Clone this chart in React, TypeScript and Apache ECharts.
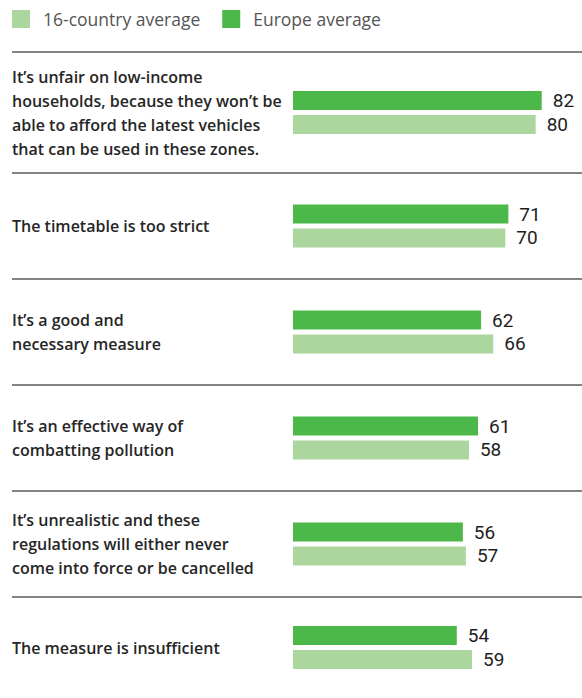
import React, { useEffect, useRef } from "react";
import * as echarts from "echarts";

const categories = [
  "It’s unfair on low-income\nhouseholds, because they won’t be\nable to afford the latest vehicles\nthat can be used in these zones.",
  "The timetable is too strict",
  "It’s a good and\nnecessary measure",
  "It’s an effective way of\ncombatting pollution",
  "It’s unrealistic and these\nregulations will either never\ncome into force or be cancelled",
  "The measure is insufficient",
];
const europeAverage = [82, 71, 62, 61, 56, 54];
const countryAverage = [80, 70, 66, 58, 57, 59];
const seriesNames = ["16-country average", "Europe average"];

const bandTops = [52, 173, 279, 385, 491, 597];
const bandBottoms = [173, 279, 385, 491, 597, 703];

const DARK = "#4cb84a";
const LIGHT = "#abd69d";
const FONT = "'Open Sans', sans-serif";

export default function App() {
  const ref = useRef<HTMLDivElement>(null);
  useEffect(() => {
    if (!ref.current) return;
    const chart = echarts.init(ref.current, null, { renderer: "svg" });
    const grids: any[] = [];
    const xAxes: any[] = [];
    const yAxes: any[] = [];
    const series: any[] = [];
    const labelStyle = {
      show: true,
      position: "right",
      distance: 11,
      fontSize: 19,
      fontWeight: "normal",
      color: "#1e1e1e",
      fontFamily: "Roboto, sans-serif",
    };
    categories.forEach((cat, i) => {
      grids.push({
        left: 293,
        right: 16,
        top: bandTops[i],
        height: bandBottoms[i] - bandTops[i],
        containLabel: false,
      });
      xAxes.push({
        type: "value",
        gridIndex: i,
        min: 0,
        max: 90,
        show: false,
      });
      yAxes.push({
        type: "category",
        gridIndex: i,
        data: [cat],
        axisLine: { show: false },
        axisTick: { show: false },
        splitLine: { show: false },
        axisLabel: {
          align: "left",
          margin: 281,
          fontSize: 16,
          lineHeight: 24,
          fontWeight: 600,
          color: "#262626",
          fontFamily: FONT,
        },
      });
      series.push({
        type: "bar",
        name: seriesNames[1],
        xAxisIndex: i,
        yAxisIndex: i,
        data: [europeAverage[i]],
        barWidth: 19,
        barGap: "26%",
        itemStyle: { color: DARK },
        label: labelStyle,
      });
      series.push({
        type: "bar",
        name: seriesNames[0],
        xAxisIndex: i,
        yAxisIndex: i,
        data: [countryAverage[i]],
        barWidth: 19,
        barGap: "26%",
        itemStyle: { color: LIGHT },
        label: labelStyle,
      });
    });
    const graphic = bandTops.map((y) => ({
      type: "line",
      shape: { x1: 12, y1: y, x2: 582, y2: y },
      style: { stroke: "#5a5a5a", lineWidth: 1.5 },
      silent: true,
    }));
    chart.setOption({
      animation: false,
      backgroundColor: "#ffffff",
      legend: {
        data: seriesNames,
        left: 12,
        top: 10,
        itemWidth: 18,
        itemHeight: 18,
        itemGap: 22,
        icon: "rect",
        padding: 0,
        selectedMode: false,
        textStyle: {
          fontSize: 17.5,
          color: "#555",
          fontFamily: FONT,
          padding: [0, 0, 0, 8],
        },
      },
      grid: grids,
      xAxis: xAxes,
      yAxis: yAxes,
      series,
      graphic,
    });
    return () => chart.dispose();
  }, []);
  return (
    <div
      ref={ref}
      style={{ position: "absolute", left: 0, top: 0, width: 582, height: 698 }}
    />
  );
}
